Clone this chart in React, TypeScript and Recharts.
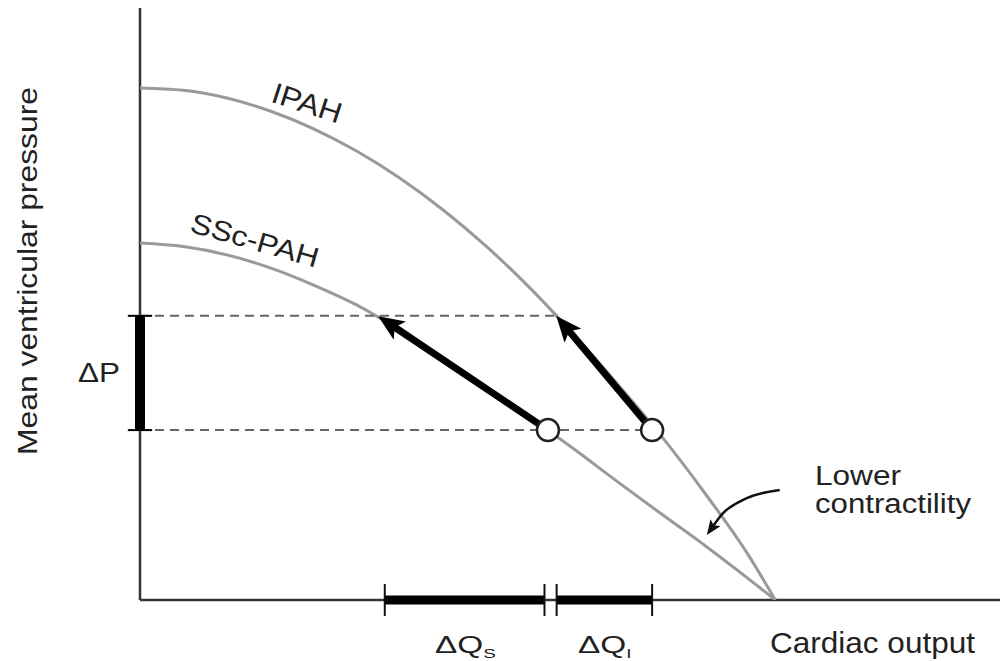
import { ComposedChart, Line, XAxis, YAxis, ReferenceLine, ReferenceDot } from 'recharts'

// pressure–flow curves (x: cardiac output, y: pressure)
const ipahCurve = [
  { x: 0, y: 86.5 }, { x: 5, y: 86.1 }, { x: 10, y: 84.8 }, { x: 15, y: 82.6 },
  { x: 20, y: 79.6 }, { x: 25, y: 75.8 }, { x: 30, y: 71.2 }, { x: 35, y: 65.8 },
  { x: 40, y: 59.6 }, { x: 45, y: 52.6 }, { x: 50, y: 44.8 }, { x: 55, y: 36.5 },
  { x: 60, y: 27.8 }, { x: 65, y: 18.2 }, { x: 70, y: 7.8 }, { x: 73.2, y: 0 },
]
const sscCurve = [
  { x: 0, y: 60.3 }, { x: 5, y: 59.7 }, { x: 10, y: 58.3 }, { x: 15, y: 56.1 },
  { x: 20, y: 53.2 }, { x: 25, y: 49.8 }, { x: 30, y: 45.5 }, { x: 35, y: 40.8 },
  { x: 40, y: 35.9 }, { x: 45, y: 30.8 }, { x: 50, y: 25.5 }, { x: 55, y: 20.0 },
  { x: 60, y: 14.6 }, { x: 65, y: 9.3 }, { x: 70, y: 3.7 }, { x: 73.2, y: 0 },
]

const pHigh = 48.0
const pLow = 28.7
const upperDash = [{ x: 0, y: pHigh }, { x: 47.8, y: pHigh }]
const lowerDash = [{ x: 0, y: pLow }, { x: 59.0, y: pLow }]

const sscArrow = [{ x: 47.0, y: pLow }, { x: 28.4, y: 47.0 }]
const ipahArrow = [{ x: 59.0, y: pLow }, { x: 48.7, y: 46.7 }]
const operatingPoints = [{ x: 47.0, y: pLow }, { x: 59.0, y: pLow }]

const contractilityArrow = [
  { x: 65.7, y: 11.8 }, { x: 67.2, y: 14.7 }, { x: 69.9, y: 17.2 }, { x: 73.7, y: 18.6 },
]

const dQs = [28.2, 46.6]
const dQi = [48.0, 59.0]

const FONT = '"Liberation Sans", Arial, sans-serif'
const INK = '#222'
const CURVE = '#9a9a9a'
const AXIS = '#333'

export default function App() {
  return (
    <ComposedChart width={1000} height={653} margin={{ top: 0, right: 0, bottom: 0, left: 0 }}>
      <defs>
        <marker id="head" markerUnits="userSpaceOnUse" markerWidth={26} markerHeight={22}
          viewBox="0 0 26 22" refX={16} refY={11} orient="auto">
          <path d="M0,0 L26,11 L0,22 L6,11 z" fill="#000" />
        </marker>
        <marker id="smallHead" markerUnits="userSpaceOnUse" markerWidth={15} markerHeight={12}
          viewBox="0 0 15 12" refX={9} refY={6} orient="auto-start-reverse">
          <path d="M0,0 L15,6 L0,12 L3,6 z" fill="#111" />
        </marker>
      </defs>

      <XAxis type="number" dataKey="x" domain={[0, 100]} allowDataOverflow height={61}
        tick={false} tickLine={false} axisLine={false} />
      <YAxis type="number" dataKey="y" domain={[0, 100]} allowDataOverflow width={132}
        tick={false} tickLine={false} axisLine={false} />

      {/* axes drawn first so the delta bars sit on top */}
      <ReferenceLine x={0} stroke={AXIS} strokeWidth={2.5} ifOverflow="visible" />
      <ReferenceLine y={0} stroke={AXIS} strokeWidth={2.5} ifOverflow="visible" />

      <Line data={ipahCurve} dataKey="y" type="monotone" stroke={CURVE} strokeWidth={3}
        dot={false} isAnimationActive={false} />
      <Line data={sscCurve} dataKey="y" type="monotone" stroke={CURVE} strokeWidth={3}
        dot={false} isAnimationActive={false} />

      <Line data={upperDash} dataKey="y" stroke="#666" strokeWidth={2} strokeDasharray="9 6"
        dot={false} isAnimationActive={false} />
      <Line data={lowerDash} dataKey="y" stroke="#666" strokeWidth={2} strokeDasharray="9 6"
        dot={false} isAnimationActive={false} />

      {/* delta P bar on the y axis */}
      <ReferenceLine segment={[{ x: 0, y: pLow }, { x: 0, y: pHigh }]} stroke="#000" strokeWidth={10} ifOverflow="visible" />
      <ReferenceLine segment={[{ x: -1.4, y: pLow }, { x: 1.4, y: pLow }]} stroke="#000" strokeWidth={2} ifOverflow="visible" />
      <ReferenceLine segment={[{ x: -1.4, y: pHigh }, { x: 1.4, y: pHigh }]} stroke="#000" strokeWidth={2} ifOverflow="visible" />

      {/* delta Q bars on the x axis */}
      {[dQs, dQi].map((r, i) => (
        <ReferenceLine key={'bar' + i} segment={[{ x: r[0], y: 0 }, { x: r[1], y: 0 }]}
          stroke="#000" strokeWidth={9} ifOverflow="visible" />
      ))}
      {[...dQs, ...dQi].map((v, i) => (
        <ReferenceLine key={'cap' + i} segment={[{ x: v, y: -2.7 }, { x: v, y: 2.7 }]}
          stroke="#111" strokeWidth={2} ifOverflow="visible" />
      ))}

      <Line data={sscArrow} dataKey="y" stroke="#000" strokeWidth={7} dot={false}
        markerEnd="url(#head)" isAnimationActive={false} />
      <Line data={ipahArrow} dataKey="y" stroke="#000" strokeWidth={7} dot={false}
        markerEnd="url(#head)" isAnimationActive={false} />
      <Line data={contractilityArrow} dataKey="y" type="monotone" stroke="#111" strokeWidth={2.5}
        dot={false} markerStart="url(#smallHead)" isAnimationActive={false} />

      {operatingPoints.map((p, i) => (
        <ReferenceDot key={'pt' + i} x={p.x} y={p.y} r={11} fill="#fff" stroke="#222" strokeWidth={2.5} ifOverflow="visible" />
      ))}

      <g fontFamily={FONT} fill={INK}>
        <text transform="translate(29,263) rotate(-90)" textAnchor="middle" fontSize={28}
          textLength={368} lengthAdjust="spacingAndGlyphs">Mean ventricular pressure</text>
        <text transform="translate(299,95) rotate(18)" textAnchor="middle" dy={10} fontSize={29}
          textLength={72} lengthAdjust="spacingAndGlyphs">IPAH</text>
        <text transform="translate(247,232) rotate(16)" textAnchor="middle" dy={10} fontSize={28}
          textLength={132} lengthAdjust="spacingAndGlyphs">SSc-PAH</text>
        <text x={70} y={374} fontSize={28} textLength={42} lengthAdjust="spacingAndGlyphs">ΔP</text>
        <text transform="translate(427,645) scale(1.45,1)" fontSize={23}>
          ΔQ<tspan fontSize={13} dy={5}>S</tspan>
        </text>
        <text transform="translate(570,645) scale(1.45,1)" fontSize={23}>
          ΔQ<tspan fontSize={13} dy={5}>I</tspan>
        </text>
        <text x={762} y={645} fontSize={29} textLength={205} lengthAdjust="spacingAndGlyphs">Cardiac output</text>
        <text x={807} y={477} fontSize={27} textLength={86} lengthAdjust="spacingAndGlyphs">Lower</text>
        <text x={807} y={505} fontSize={27} textLength={156} lengthAdjust="spacingAndGlyphs">contractility</text>
      </g>
    </ComposedChart>
  )
}
